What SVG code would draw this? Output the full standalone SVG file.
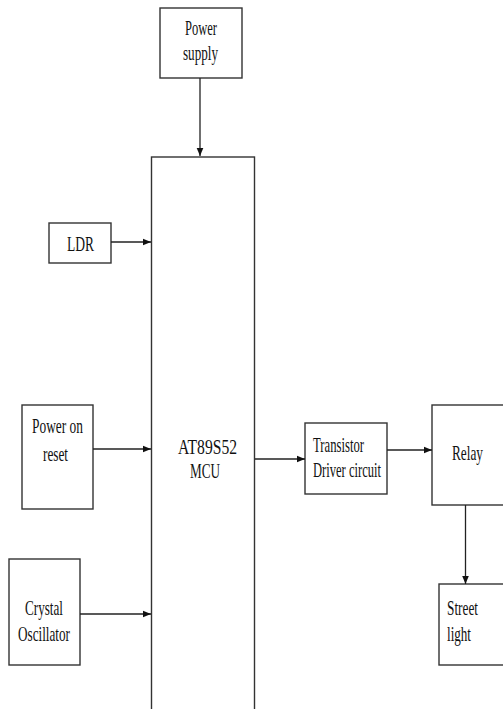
<svg xmlns="http://www.w3.org/2000/svg" width="503" height="709" viewBox="0 0 503 709">
<defs>
<style>
.box{fill:#fff;stroke:#333;stroke-width:1.4}
.t{font-family:"Liberation Serif","Times New Roman",serif;font-size:21px;fill:#111}
.c{fill:none;stroke:#222;stroke-width:1.3}
</style>
<marker id="ah" markerWidth="9" markerHeight="8" refX="8.5" refY="4" orient="auto" markerUnits="userSpaceOnUse">
<path d="M0,0.5 L8.5,4 L0,7.5 Z" fill="#111"/>
</marker>
</defs>
<rect width="503" height="709" fill="#fff"/>
<g id="power-supply">
<rect class="box" x="160" y="8" width="82" height="70"/>
<text class="t" x="185" y="35" textLength="32" lengthAdjust="spacingAndGlyphs">Power</text>
<text class="t" x="183" y="60" textLength="35" lengthAdjust="spacingAndGlyphs">supply</text>
</g>
<g id="mcu">
<rect class="box" x="151.5" y="157" width="103" height="580"/>
<text class="t" x="178" y="454" textLength="59" lengthAdjust="spacingAndGlyphs">AT89S52</text>
<text class="t" x="190" y="478" textLength="30" lengthAdjust="spacingAndGlyphs">MCU</text>
</g>
<g id="ldr">
<rect class="box" x="49" y="223" width="62" height="40"/>
<text class="t" x="67" y="251" textLength="27" lengthAdjust="spacingAndGlyphs">LDR</text>
</g>
<g id="power-on-reset">
<rect class="box" x="22" y="405" width="71" height="104"/>
<text class="t" x="32" y="433" textLength="51" lengthAdjust="spacingAndGlyphs">Power on</text>
<text class="t" x="43" y="461" textLength="25" lengthAdjust="spacingAndGlyphs">reset</text>
</g>
<g id="crystal-oscillator">
<rect class="box" x="9" y="559" width="71" height="106"/>
<text class="t" x="25" y="615" textLength="38" lengthAdjust="spacingAndGlyphs">Crystal</text>
<text class="t" x="18" y="641" textLength="52" lengthAdjust="spacingAndGlyphs">Oscillator</text>
</g>
<g id="transistor-driver">
<rect class="box" x="305" y="423" width="82" height="71"/>
<text class="t" x="313" y="452" textLength="51" lengthAdjust="spacingAndGlyphs">Transistor</text>
<text class="t" x="313" y="477" textLength="68" lengthAdjust="spacingAndGlyphs">Driver circuit</text>
</g>
<g id="relay">
<rect class="box" x="432" y="405" width="100" height="100"/>
<text class="t" x="452" y="460" textLength="31" lengthAdjust="spacingAndGlyphs">Relay</text>
</g>
<g id="street-light">
<rect class="box" x="439" y="584" width="100" height="81"/>
<text class="t" x="447" y="615" textLength="31" lengthAdjust="spacingAndGlyphs">Street</text>
<text class="t" x="447" y="641" textLength="24" lengthAdjust="spacingAndGlyphs">light</text>
</g>
<g id="connectors">
<line class="c" x1="200" y1="78" x2="200" y2="156" marker-end="url(#ah)"/>
<line class="c" x1="111" y1="242" x2="151" y2="242" marker-end="url(#ah)"/>
<line class="c" x1="93" y1="449" x2="151" y2="449" marker-end="url(#ah)"/>
<line class="c" x1="80" y1="614" x2="151" y2="614" marker-end="url(#ah)"/>
<line class="c" x1="255" y1="459" x2="305" y2="459" marker-end="url(#ah)"/>
<line class="c" x1="387" y1="450" x2="432" y2="450" marker-end="url(#ah)"/>
<line class="c" x1="465.5" y1="505" x2="465.5" y2="584" marker-end="url(#ah)"/>
</g>
</svg>
